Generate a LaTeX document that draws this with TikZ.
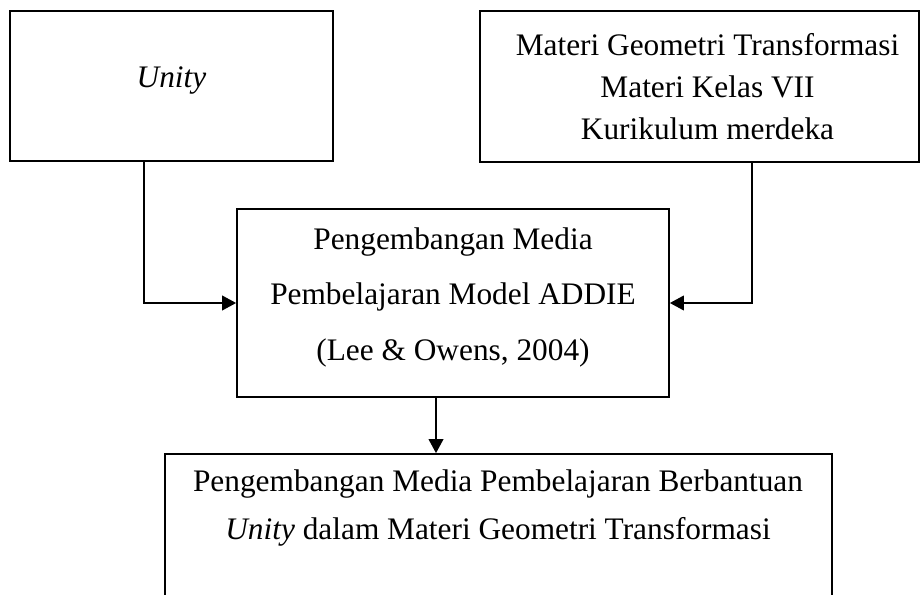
\documentclass[tikz,border=0pt]{standalone}
\usepackage{fontspec}
\setmainfont{Liberation Serif}
\usetikzlibrary{arrows.meta,calc}
\begin{document}
\begin{tikzpicture}[x=0.75pt,y=-0.75pt,
  box/.style={draw=black,line width=1.3pt,rectangle,inner sep=0pt},
  txt/.style={font=\fontsize{23.5}{28}\selectfont,anchor=base,inner sep=0pt},
  arr/.style={draw=black,line width=1.3pt,-{Triangle[length=10.5pt,width=11pt]}}]
\fill[white] (0,0) rectangle (924,595);
\clip (0,0) rectangle (924,595);
\useasboundingbox (0,0) rectangle (924,595);
% boxes
\node[box,minimum width=242.25pt,minimum height=112.5pt] (unity) at (171.5,86) {};
\node[box,minimum width=329.25pt,minimum height=113.25pt] (materi) at (699.5,86.5) {};
\node[box,minimum width=324pt,minimum height=141pt] (center) at (453,303) {};
\node[box,minimum width=500.25pt,minimum height=124.5pt] (result) at (498.5,537) {};
% texts
\node[txt] (tu) at (171.5,88) {\textit{Unity}};
\node[txt] (tm1) at (707.5,56) {Materi Geometri Transformasi};
\node[txt] (tm2) at (707.5,98) {Materi Kelas VII};
\node[txt] (tm3) at (707.5,140) {Kurikulum merdeka};
\node[txt] (tc1) at (453,250) {Pengembangan Media};
\node[txt] (tc2) at (453,305) {Pembelajaran Model ADDIE};
\node[txt] (tc3) at (453,360) {(Lee \& Owens, 2004)};
\node[txt] (tr1) at (498,491) {Pengembangan Media Pembelajaran Berbantuan};
\node[txt] (tr2) at (498,539) {\textit{Unity} dalam Materi Geometri Transformasi};
% connectors
\draw[arr] ($(unity.south west)+(135,0)$) |- (center.west);
\draw[arr] ($(materi.south west)+(273,0)$) |- (center.east);
\draw[arr] ($(center.south)+(-17,0)$) coordinate (d1) -- (d1 |- result.north);
\end{tikzpicture}
\end{document}
